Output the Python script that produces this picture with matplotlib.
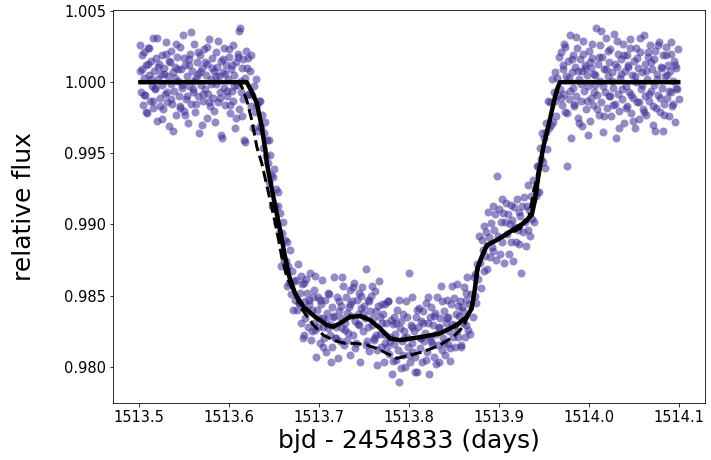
import matplotlib
matplotlib.use('Agg')
import matplotlib.pyplot as plt

# light curve points (bjd - 2454833, relative flux)
# before transit
t_pre = [1513.501, 1513.502, 1513.503, 1513.504, 1513.505, 1513.506, 1513.507, 1513.508, 1513.509, 1513.510,
         1513.511, 1513.512, 1513.513, 1513.514, 1513.515, 1513.516, 1513.517, 1513.518, 1513.519, 1513.520,
         1513.521, 1513.522, 1513.523, 1513.524, 1513.525, 1513.526, 1513.527, 1513.528, 1513.529, 1513.530,
         1513.531, 1513.532, 1513.533, 1513.534, 1513.535, 1513.536, 1513.537, 1513.538, 1513.539, 1513.540,
         1513.541, 1513.542, 1513.543, 1513.544, 1513.545, 1513.546, 1513.547, 1513.548, 1513.549, 1513.550,
         1513.551, 1513.552, 1513.553, 1513.554, 1513.555, 1513.556, 1513.557, 1513.558, 1513.559, 1513.560,
         1513.561, 1513.562, 1513.563, 1513.564, 1513.565, 1513.566, 1513.567, 1513.568, 1513.569, 1513.570,
         1513.571, 1513.572, 1513.573, 1513.574, 1513.575, 1513.576, 1513.577, 1513.578, 1513.579, 1513.580,
         1513.581, 1513.582, 1513.583, 1513.584, 1513.585, 1513.586, 1513.587, 1513.588, 1513.589, 1513.590,
         1513.591, 1513.592, 1513.593, 1513.594, 1513.595, 1513.596, 1513.597, 1513.598, 1513.599, 1513.600,
         1513.601, 1513.602, 1513.603, 1513.604, 1513.605, 1513.606, 1513.607, 1513.608, 1513.609, 1513.610,
         1513.611, 1513.612, 1513.613, 1513.614, 1513.615, 1513.616, 1513.617, 1513.618, 1513.619, 1513.620]
f_pre = [1.0026, 0.9993, 1.0009, 0.9984, 1.0021, 1.0003, 0.9991, 1.0012, 0.9978, 1.0024,
         1.0005, 0.9987, 1.0015, 0.9997, 1.0031, 0.9982, 1.0008, 0.9995, 1.0017, 0.9973,
         1.0002, 1.0013, 0.9989, 1.0006, 0.9998, 1.0019, 0.9981, 1.0010, 0.9992, 1.0028,
         0.9986, 1.0004, 0.9969, 1.0014, 0.9999, 1.0022, 0.9985, 1.0007, 0.9994, 1.0011,
         0.9977, 1.0018, 1.0001, 0.9990, 1.0025, 0.9983, 1.0009, 0.9996, 1.0033, 0.9980,
         1.0012, 0.9988, 1.0004, 0.9971, 1.0016, 0.9997, 1.0020, 0.9985, 1.0008, 0.9993,
         1.0027, 0.9979, 1.0003, 1.0014, 0.9990, 1.0006, 0.9964, 1.0019, 0.9998, 1.0010,
         0.9987, 1.0023, 0.9995, 1.0005, 0.9975, 1.0013, 0.9992, 1.0030, 0.9983, 1.0002,
         1.0017, 0.9989, 1.0008, 0.9972, 1.0021, 0.9999, 1.0011, 0.9986, 1.0004, 0.9993,
         1.0015, 0.9961, 1.0007, 0.9996, 1.0024, 0.9984, 1.0012, 0.9990, 1.0002, 1.0018,
         0.9978, 1.0009, 0.9994, 1.0026, 0.9987, 1.0005, 0.9968, 1.0014, 0.9998, 1.0020,
         0.9981, 1.0038, 0.9993, 1.0010, 0.9976, 1.0016, 0.9959, 1.0003, 1.0022, 0.9991]
t_pre_b = [1513.5015, 1513.5035, 1513.5055, 1513.5075, 1513.5095, 1513.5115, 1513.5135, 1513.5155, 1513.5175, 1513.5195,
           1513.5215, 1513.5235, 1513.5255, 1513.5275, 1513.5295, 1513.5315, 1513.5335, 1513.5355, 1513.5375, 1513.5395,
           1513.5415, 1513.5435, 1513.5455, 1513.5475, 1513.5495, 1513.5515, 1513.5535, 1513.5555, 1513.5575, 1513.5595,
           1513.5615, 1513.5635, 1513.5655, 1513.5675, 1513.5695, 1513.5715, 1513.5735, 1513.5755, 1513.5775, 1513.5795,
           1513.5815, 1513.5835, 1513.5855, 1513.5875, 1513.5895, 1513.5915, 1513.5935, 1513.5955, 1513.5975, 1513.5995,
           1513.6015, 1513.6035, 1513.6055, 1513.6075, 1513.6095, 1513.6115, 1513.6135, 1513.6155, 1513.6175, 1513.6195]
f_pre_b = [1.0008, 1.0019, 0.9991, 0.9979, 1.0013, 1.0024, 1.0002, 0.9987, 0.9996, 1.0031,
           1.0011, 0.9983, 0.9974, 1.0006, 1.0020, 0.9993, 1.0015, 0.9988, 0.9966, 1.0003,
           1.0027, 1.0009, 0.9982, 0.9998, 1.0017, 0.9977, 0.9990, 1.0012, 1.0035, 0.9995,
           1.0001, 0.9985, 1.0021, 1.0007, 0.9970, 0.9992, 1.0014, 1.0025, 0.9986, 0.9999,
           1.0010, 0.9980, 1.0004, 1.0029, 0.9989, 0.9963, 1.0016, 1.0006, 0.9994, 1.0023,
           0.9984, 1.0012, 0.9997, 0.9975, 1.0018, 1.0036, 1.0001, 0.9988, 0.9958, 1.0010]

# ingress
t_in = [1513.621, 1513.622, 1513.623, 1513.624, 1513.625, 1513.626, 1513.627, 1513.628, 1513.629, 1513.630,
        1513.631, 1513.632, 1513.633, 1513.634, 1513.635, 1513.636, 1513.637, 1513.638, 1513.639, 1513.640,
        1513.641, 1513.642, 1513.643, 1513.644, 1513.645, 1513.646, 1513.647, 1513.648, 1513.649, 1513.650,
        1513.651, 1513.652, 1513.653, 1513.654, 1513.655, 1513.656, 1513.657, 1513.658, 1513.659, 1513.660,
        1513.661, 1513.662, 1513.663, 1513.664, 1513.665, 1513.666, 1513.667, 1513.668, 1513.669, 1513.670,
        1513.671, 1513.672, 1513.673]
f_in = [1.0017, 0.9992, 1.0008, 0.9983, 1.0019, 0.9991, 0.9968, 0.9997, 0.9979, 1.0002,
        0.9984, 0.9966, 0.9987, 0.9969, 0.9987, 0.9968, 0.9977, 0.9954, 0.9964, 0.9972,
        0.9948, 0.9959, 0.9943, 0.9959, 0.9930, 0.9949, 0.9935, 0.9913, 0.9933, 0.9939,
        0.9913, 0.9925, 0.9900, 0.9913, 0.9923, 0.9894, 0.9908, 0.9871, 0.9894, 0.9902,
        0.9874, 0.9889, 0.9874, 0.9888, 0.9857, 0.9871, 0.9859, 0.9882, 0.9851, 0.9867,
        0.9840, 0.9860, 0.9847]

# bottom of the transit
t_bot = [1513.675, 1513.676, 1513.677, 1513.678, 1513.679, 1513.680, 1513.681, 1513.682, 1513.683, 1513.684,
         1513.685, 1513.686, 1513.687, 1513.688, 1513.689, 1513.690, 1513.691, 1513.692, 1513.693, 1513.694,
         1513.695, 1513.696, 1513.697, 1513.698, 1513.699, 1513.700, 1513.701, 1513.702, 1513.703, 1513.704,
         1513.705, 1513.706, 1513.707, 1513.708, 1513.709, 1513.710, 1513.711, 1513.712, 1513.713, 1513.714,
         1513.715, 1513.716, 1513.717, 1513.718, 1513.719, 1513.720, 1513.721, 1513.722, 1513.723, 1513.724,
         1513.725, 1513.726, 1513.727, 1513.728, 1513.729, 1513.730, 1513.731, 1513.732, 1513.733, 1513.734,
         1513.735, 1513.736, 1513.737, 1513.738, 1513.739, 1513.740, 1513.741, 1513.742, 1513.743, 1513.744,
         1513.745, 1513.746, 1513.747, 1513.748, 1513.749, 1513.750, 1513.751, 1513.752, 1513.753, 1513.754,
         1513.755, 1513.756, 1513.757, 1513.758, 1513.759, 1513.760, 1513.761, 1513.762, 1513.763, 1513.764,
         1513.765, 1513.766, 1513.767, 1513.768, 1513.769, 1513.770, 1513.771, 1513.772, 1513.773, 1513.774,
         1513.775, 1513.776, 1513.777, 1513.778, 1513.779, 1513.780, 1513.781, 1513.782, 1513.783, 1513.784,
         1513.785, 1513.786, 1513.787, 1513.788, 1513.789, 1513.790, 1513.791, 1513.792, 1513.793, 1513.794,
         1513.795, 1513.796, 1513.797, 1513.798, 1513.799, 1513.800, 1513.801, 1513.802, 1513.803, 1513.804,
         1513.805, 1513.806, 1513.807, 1513.808, 1513.809, 1513.810, 1513.811, 1513.812, 1513.813, 1513.814,
         1513.815, 1513.816, 1513.817, 1513.818, 1513.819, 1513.820, 1513.821, 1513.822, 1513.823, 1513.824,
         1513.825, 1513.826, 1513.827, 1513.828, 1513.829, 1513.830, 1513.831, 1513.832, 1513.833, 1513.834,
         1513.835, 1513.836, 1513.837, 1513.838, 1513.839, 1513.840, 1513.841, 1513.842, 1513.843, 1513.844,
         1513.845, 1513.846, 1513.847, 1513.848, 1513.849, 1513.850, 1513.851, 1513.852, 1513.853, 1513.854,
         1513.855, 1513.856, 1513.857, 1513.858, 1513.859, 1513.860, 1513.861, 1513.862, 1513.863, 1513.864,
         1513.865, 1513.866, 1513.867, 1513.868, 1513.869]
f_bot = [0.9861, 0.9840, 0.9872, 0.9845, 0.9852, 0.9831, 0.9858, 0.9820, 0.9859, 0.9846,
         0.9834, 0.9862, 0.9839, 0.9828, 0.9847, 0.9866, 0.9819, 0.9840, 0.9849, 0.9831,
         0.9854, 0.9826, 0.9807, 0.9840, 0.9849, 0.9834, 0.9817, 0.9844, 0.9861, 0.9828,
         0.9834, 0.9820, 0.9847, 0.9810, 0.9838, 0.9827, 0.9851, 0.9822, 0.9829, 0.9842,
         0.9814, 0.9835, 0.9863, 0.9820, 0.9828, 0.9849, 0.9806, 0.9839, 0.9818, 0.9834,
         0.9843, 0.9827, 0.9857, 0.9815, 0.9826, 0.9849, 0.9838, 0.9824, 0.9842, 0.9808,
         0.9854, 0.9836, 0.9846, 0.9822, 0.9859, 0.9832, 0.9817, 0.9847, 0.9837, 0.9829,
         0.9852, 0.9803, 0.9841, 0.9856, 0.9825, 0.9843, 0.9834, 0.9869, 0.9818, 0.9847,
         0.9828, 0.9811, 0.9839, 0.9850, 0.9829, 0.9834, 0.9819, 0.9853, 0.9822, 0.9839,
         0.9812, 0.9843, 0.9860, 0.9823, 0.9814, 0.9831, 0.9837, 0.9803, 0.9844, 0.9822,
         0.9831, 0.9814, 0.9846, 0.9809, 0.9821, 0.9833, 0.9795, 0.9830, 0.9835, 0.9816,
         0.9823, 0.9805, 0.9840, 0.9812, 0.9789, 0.9827, 0.9832, 0.9818, 0.9837, 0.9808,
         0.9825, 0.9800, 0.9846, 0.9821, 0.9814, 0.9866, 0.9803, 0.9829, 0.9817, 0.9849,
         0.9810, 0.9825, 0.9807, 0.9835, 0.9796, 0.9828, 0.9841, 0.9813, 0.9820, 0.9832,
         0.9803, 0.9839, 0.9818, 0.9824, 0.9845, 0.9810, 0.9831, 0.9795, 0.9835, 0.9821,
         0.9842, 0.9816, 0.9829, 0.9807, 0.9838, 0.9823, 0.9849, 0.9815, 0.9827, 0.9803,
         0.9834, 0.9857, 0.9812, 0.9820, 0.9839, 0.9808, 0.9831, 0.9847, 0.9816, 0.9835,
         0.9825, 0.9804, 0.9844, 0.9830, 0.9821, 0.9848, 0.9814, 0.9837, 0.9858, 0.9825,
         0.9821, 0.9836, 0.9846, 0.9814, 0.9842, 0.9831, 0.9856, 0.9821, 0.9847, 0.9829,
         0.9863, 0.9826, 0.9844, 0.9823, 0.9851]
t_bot_b = [1513.6775, 1513.6805, 1513.6835, 1513.6865, 1513.6895, 1513.6925, 1513.6955, 1513.6985, 1513.7015, 1513.7045,
           1513.7075, 1513.7105, 1513.7135, 1513.7165, 1513.7195, 1513.7225, 1513.7255, 1513.7285, 1513.7315, 1513.7345,
           1513.7375, 1513.7405, 1513.7435, 1513.7465, 1513.7495, 1513.7525, 1513.7555, 1513.7585, 1513.7615, 1513.7645,
           1513.7675, 1513.7705, 1513.7735, 1513.7765, 1513.7795, 1513.7825, 1513.7855, 1513.7885, 1513.7915, 1513.7945,
           1513.7975, 1513.8005, 1513.8035, 1513.8065, 1513.8095, 1513.8125, 1513.8155, 1513.8185, 1513.8215, 1513.8245,
           1513.8275, 1513.8305, 1513.8335, 1513.8365, 1513.8395, 1513.8425, 1513.8455, 1513.8485, 1513.8515, 1513.8545,
           1513.8575, 1513.8605, 1513.8635]
f_bot_b = [0.9845, 0.9864, 0.9822, 0.9852, 0.9844, 0.9825, 0.9864, 0.9828, 0.9847, 0.9814,
           0.9833, 0.9852, 0.9803, 0.9836, 0.9820, 0.9846, 0.9863, 0.9831, 0.9819, 0.9844,
           0.9856, 0.9813, 0.9830, 0.9850, 0.9838, 0.9815, 0.9846, 0.9857, 0.9820, 0.9801,
           0.9835, 0.9844, 0.9817, 0.9846, 0.9818, 0.9804, 0.9831, 0.9847, 0.9799, 0.9820,
           0.9835, 0.9808, 0.9828, 0.9796, 0.9840, 0.9820, 0.9831, 0.9805, 0.9849, 0.9818,
           0.9836, 0.9802, 0.9828, 0.9846, 0.9817, 0.9834, 0.9813, 0.9857, 0.9829, 0.9843,
           0.9815, 0.9839, 0.9852]

# egress
t_eg = [1513.871, 1513.872, 1513.873, 1513.874, 1513.875, 1513.876, 1513.877, 1513.878, 1513.879, 1513.880,
        1513.881, 1513.882, 1513.883, 1513.884, 1513.885, 1513.886, 1513.887, 1513.888, 1513.889, 1513.890,
        1513.891, 1513.892, 1513.893, 1513.894, 1513.895, 1513.896, 1513.897, 1513.898, 1513.899, 1513.900,
        1513.901, 1513.902, 1513.903, 1513.904, 1513.905, 1513.906, 1513.907, 1513.908, 1513.909, 1513.910,
        1513.911, 1513.912, 1513.913, 1513.914, 1513.915, 1513.916, 1513.917, 1513.918, 1513.919, 1513.920,
        1513.921, 1513.922, 1513.923, 1513.924, 1513.925, 1513.926, 1513.927, 1513.928, 1513.929, 1513.930,
        1513.931, 1513.932, 1513.933, 1513.934, 1513.935, 1513.936, 1513.937, 1513.938, 1513.939, 1513.940,
        1513.941, 1513.942, 1513.943, 1513.944, 1513.945, 1513.946, 1513.947, 1513.948, 1513.949, 1513.950,
        1513.951, 1513.952, 1513.953, 1513.954, 1513.955, 1513.956, 1513.957, 1513.958, 1513.959, 1513.960,
        1513.961, 1513.962, 1513.963, 1513.964, 1513.965, 1513.966, 1513.967]
f_eg = [0.9835, 0.9863, 0.9850, 0.9865, 0.9845, 0.9872, 0.9862, 0.9892, 0.9873, 0.9855,
        0.9889, 0.9882, 0.9867, 0.9899, 0.9878, 0.9895, 0.9869, 0.9909, 0.9891, 0.9877,
        0.9901, 0.9884, 0.9913, 0.9881, 0.9896, 0.9907, 0.9875, 0.9934, 0.9892, 0.9911,
        0.9879, 0.9902, 0.9918, 0.9888, 0.9908, 0.9873, 0.9902, 0.9915, 0.9893, 0.9907,
        0.9879, 0.9900, 0.9914, 0.9888, 0.9903, 0.9874, 0.9912, 0.9898, 0.9888, 0.9918,
        0.9896, 0.9909, 0.9886, 0.9906, 0.9866, 0.9913, 0.9895, 0.9919, 0.9902, 0.9885,
        0.9913, 0.9928, 0.9896, 0.9910, 0.9892, 0.9920, 0.9904, 0.9931, 0.9902, 0.9925,
        0.9920, 0.9941, 0.9923, 0.9941, 0.9923, 0.9954, 0.9946, 0.9964, 0.9944, 0.9961,
        0.9940, 0.9971, 0.9965, 0.9953, 0.9987, 0.9968, 0.9986, 0.9970, 1.0002, 0.9972,
        0.9993, 0.9987, 1.0007, 0.9976, 1.0003, 0.9991, 1.0018]

# after transit
t_post = [1513.968, 1513.969, 1513.970, 1513.971, 1513.972, 1513.973, 1513.974, 1513.975, 1513.976, 1513.977,
          1513.978, 1513.979, 1513.980, 1513.981, 1513.982, 1513.983, 1513.984, 1513.985, 1513.986, 1513.987,
          1513.988, 1513.989, 1513.990, 1513.991, 1513.992, 1513.993, 1513.994, 1513.995, 1513.996, 1513.997,
          1513.998, 1513.999, 1514.000, 1514.001, 1514.002, 1514.003, 1514.004, 1514.005, 1514.006, 1514.007,
          1514.008, 1514.009, 1514.010, 1514.011, 1514.012, 1514.013, 1514.014, 1514.015, 1514.016, 1514.017,
          1514.018, 1514.019, 1514.020, 1514.021, 1514.022, 1514.023, 1514.024, 1514.025, 1514.026, 1514.027,
          1514.028, 1514.029, 1514.030, 1514.031, 1514.032, 1514.033, 1514.034, 1514.035, 1514.036, 1514.037,
          1514.038, 1514.039, 1514.040, 1514.041, 1514.042, 1514.043, 1514.044, 1514.045, 1514.046, 1514.047,
          1514.048, 1514.049, 1514.050, 1514.051, 1514.052, 1514.053, 1514.054, 1514.055, 1514.056, 1514.057,
          1514.058, 1514.059, 1514.060, 1514.061, 1514.062, 1514.063, 1514.064, 1514.065, 1514.066, 1514.067,
          1514.068, 1514.069, 1514.070, 1514.071, 1514.072, 1514.073, 1514.074, 1514.075, 1514.076, 1514.077,
          1514.078, 1514.079, 1514.080, 1514.081, 1514.082, 1514.083, 1514.084, 1514.085, 1514.086, 1514.087,
          1514.088, 1514.089, 1514.090, 1514.091, 1514.092, 1514.093, 1514.094, 1514.095, 1514.096, 1514.097,
          1514.098, 1514.099, 1514.100]
f_post = [0.9995, 1.0021, 0.9984, 1.0009, 0.9992, 1.0027, 0.9979, 1.0004, 0.9941, 1.0015,
          0.9988, 1.0033, 0.9961, 1.0007, 0.9996, 1.0019, 0.9983, 1.0011, 0.9990, 1.0024,
          0.9975, 1.0002, 1.0016, 0.9987, 1.0008, 0.9969, 1.0029, 0.9994, 1.0012, 0.9981,
          1.0005, 0.9997, 1.0022, 0.9973, 1.0010, 0.9989, 1.0017, 0.9984, 1.0006, 0.9998,
          1.0038, 0.9991, 1.0013, 0.9977, 1.0026, 1.0001, 0.9986, 1.0018, 0.9965, 1.0009,
          0.9993, 1.0031, 0.9982, 1.0004, 1.0014, 0.9990, 1.0023, 0.9976, 1.0007, 0.9996,
          1.0034, 0.9985, 0.9961, 1.0011, 0.9992, 1.0020, 0.9980, 1.0003, 1.0016, 0.9988,
          1.0027, 0.9971, 1.0008, 0.9997, 1.0019, 0.9983, 1.0012, 0.9993, 1.0030, 0.9978,
          1.0005, 0.9989, 1.0015, 0.9968, 1.0024, 1.0000, 0.9986, 1.0010, 0.9974, 1.0021,
          0.9995, 1.0007, 0.9981, 1.0033, 0.9990, 1.0013, 0.9977, 1.0002, 1.0018, 0.9987,
          1.0026, 0.9994, 1.0009, 0.9970, 1.0016, 0.9998, 1.0022, 0.9982, 1.0006, 0.9991,
          1.0028, 0.9979, 1.0011, 0.9996, 0.9966, 1.0019, 0.9985, 1.0004, 1.0025, 0.9989,
          1.0012, 0.9976, 1.0008, 0.9993, 1.0020, 0.9983, 1.0001, 1.0015, 0.9972, 1.0010,
          0.9995, 1.0023, 0.9988]
t_post_b = [1513.9695, 1513.9715, 1513.9735, 1513.9755, 1513.9775, 1513.9795, 1513.9815, 1513.9835, 1513.9855, 1513.9875,
            1513.9895, 1513.9915, 1513.9935, 1513.9955, 1513.9975, 1513.9995, 1514.0015, 1514.0035, 1514.0055, 1514.0075,
            1514.0095, 1514.0115, 1514.0135, 1514.0155, 1514.0175, 1514.0195, 1514.0215, 1514.0235, 1514.0255, 1514.0275,
            1514.0295, 1514.0315, 1514.0335, 1514.0355, 1514.0375, 1514.0395, 1514.0415, 1514.0435, 1514.0455, 1514.0475,
            1514.0495, 1514.0515, 1514.0535, 1514.0555, 1514.0575, 1514.0595, 1514.0615, 1514.0635, 1514.0655, 1514.0675,
            1514.0695, 1514.0715, 1514.0735, 1514.0755, 1514.0775, 1514.0795, 1514.0815, 1514.0835, 1514.0855, 1514.0875,
            1514.0895, 1514.0915, 1514.0935, 1514.0955, 1514.0975]
f_post_b = [0.9989, 1.0012, 1.0025, 0.9978, 1.0003, 0.9994, 1.0016, 0.9985, 1.0032, 1.0008,
            0.9971, 0.9999, 1.0020, 1.0010, 0.9987, 0.9963, 1.0014, 1.0027, 0.9993, 1.0005,
            0.9981, 1.0018, 1.0036, 0.9997, 0.9976, 1.0009, 1.0022, 0.9990, 1.0001, 0.9984,
            1.0013, 1.0029, 0.9968, 1.0006, 0.9995, 1.0019, 0.9982, 1.0011, 1.0024, 0.9991,
            0.9973, 1.0004, 1.0017, 0.9986, 1.0031, 0.9998, 0.9979, 1.0008, 1.0021, 0.9992,
            1.0014, 0.9983, 0.9966, 1.0002, 1.0026, 0.9989, 1.0010, 0.9977, 1.0019, 1.0005,
            0.9994, 1.0028, 0.9985, 1.0012, 0.9996]

# model with spot crossing (solid)
t_model = [1513.5015, 1513.6197, 1513.6253, 1513.6309, 1513.6364, 1513.6409, 1513.6420, 1513.6493, 1513.6568,
           1513.6623, 1513.6671, 1513.6734, 1513.6827, 1513.6957, 1513.7087, 1513.7160, 1513.7235, 1513.7346,
           1513.7457, 1513.7568, 1513.7679, 1513.7790, 1513.7902, 1513.8161, 1513.8346, 1513.8532, 1513.8643,
           1513.8699, 1513.8735, 1513.8761, 1513.8810, 1513.8866, 1513.8977, 1513.9125, 1513.9272, 1513.9366,
           1513.9402, 1513.9439, 1513.9495, 1513.9550, 1513.9625, 1513.9653, 1513.9680, 1514.0995]
f_model = [1.0, 1.0, 0.99933, 0.99853, 0.99687, 0.99502, 0.99431, 0.99195, 0.98960,
           0.98773, 0.98632, 0.98516, 0.98421, 0.98351, 0.98293, 0.98281, 0.98305, 0.98351,
           0.98356, 0.98328, 0.98270, 0.98199, 0.98187, 0.98211, 0.98234, 0.98293, 0.98351,
           0.98410, 0.98550, 0.98691, 0.98773, 0.98855, 0.98890, 0.98949, 0.99008, 0.99066,
           0.99171, 0.99335, 0.99546, 0.99687, 0.99897, 0.99959, 1.0, 1.0]

# model without spot (dashed)
t_alt = [1513.5015, 1513.6104, 1513.6142, 1513.6197, 1513.6253, 1513.6309, 1513.6364, 1513.6449, 1513.6531,
         1513.6586, 1513.6642, 1513.6809, 1513.6938, 1513.7049, 1513.7160, 1513.7290, 1513.7420, 1513.7531,
         1513.7643, 1513.7754, 1513.7865, 1513.8013, 1513.8161, 1513.8346, 1513.8494, 1513.8605, 1513.8680,
         1513.8735, 1513.8772, 1513.8828, 1513.8883, 1513.9050, 1513.9236, 1513.9328, 1513.9384, 1513.9439,
         1513.9495, 1513.9550, 1513.9625, 1513.9680, 1514.0995]
f_alt = [1.0, 1.0, 0.99968, 0.99874, 0.99734, 0.99546, 0.99431, 0.99195, 0.98960,
         0.98773, 0.98632, 0.98405, 0.98293, 0.98222, 0.98187, 0.98164, 0.98164, 0.98152,
         0.98129, 0.98094, 0.98059, 0.98082, 0.98105, 0.98152, 0.98211, 0.98281, 0.98386,
         0.98550, 0.98691, 0.98797, 0.98855, 0.98913, 0.98972, 0.99031, 0.99218, 0.99382,
         0.99546, 0.99687, 0.99897, 1.0, 1.0]

t_data = t_pre + t_pre_b + t_in + t_bot + t_bot_b + t_eg + t_post + t_post_b
f_data = f_pre + f_pre_b + f_in + f_bot + f_bot_b + f_eg + f_post + f_post_b

fig = plt.figure(figsize=(711 / 72, 460 / 72), dpi=72)
ax = fig.add_axes([0.1594, 0.1239, 0.8326, 0.8543])

ax.plot(t_data, f_data, 'o', color='#3a2d96', alpha=0.55, ms=8, mew=0)
ax.plot(t_alt, f_alt, 'k--', lw=3)
ax.plot(t_model, f_model, 'k-', lw=4.5)

ax.set_xlim(1513.4714, 1514.1296)
ax.set_ylim(0.97745, 1.00507)
ax.ticklabel_format(useOffset=False)
ax.tick_params(labelsize=14.6)
ax.set_xlabel('bjd - 2454833 (days)', fontsize=25)
ax.set_ylabel('relative flux', fontsize=25, labelpad=28)

fig.savefig('out.png', dpi=72)
